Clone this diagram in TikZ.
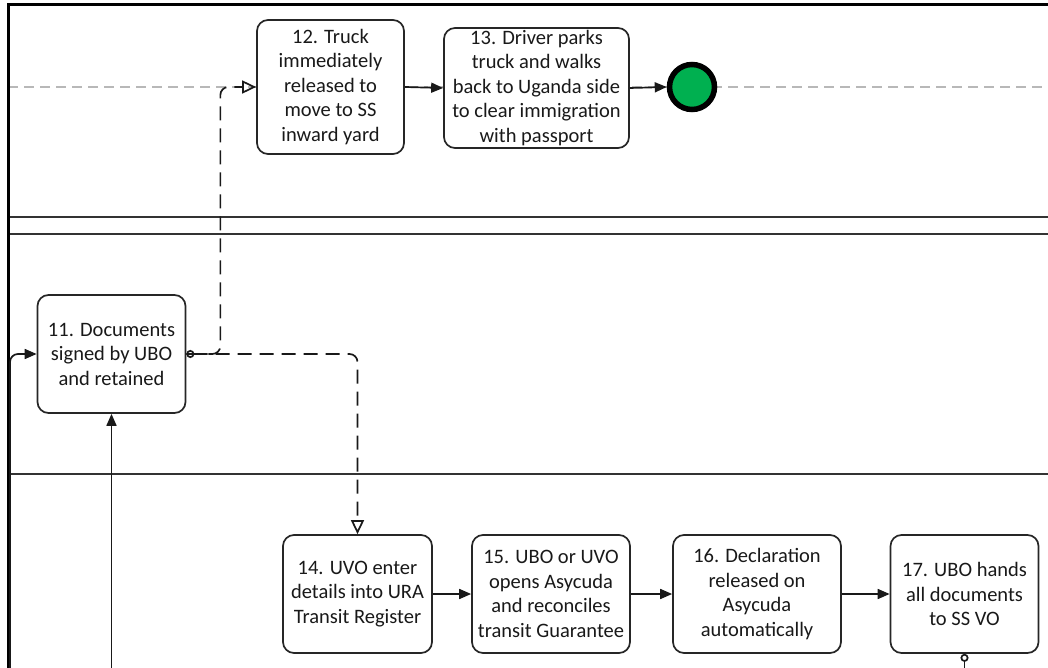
\documentclass[tikz,border=0pt]{standalone}
\usepackage{fontspec}
\setmainfont{Carlito}
\usetikzlibrary{arrows.meta}
\definecolor{endgreen}{HTML}{00B050}
\begin{document}
\begin{tikzpicture}[x=1pt,y=-1pt,
  task/.style={draw=black!85, line width=1.7pt, rounded corners=11pt, fill=white,
    align=center, inner sep=0pt, text=black!90,
    font=\fontsize{20.5}{24.5}\selectfont},
  flow/.style={line width=1.7pt, black!90, -{Triangle[length=12pt,width=10pt]}},
  msg/.style={line width=1.7pt, black!90, dash pattern=on 14pt off 8pt, rounded corners=8pt},
  lane/.style={line width=2.3pt, black!80},
  guide/.style={line width=1.3pt, black!28, dash pattern=on 10pt off 6pt},
  endevent/.style={circle, draw=black, line width=5.5pt, fill=endgreen, minimum size=45pt, inner sep=0pt}]
\useasboundingbox (0,0) rectangle (1048,668);

% pool frame and lane separators
\draw[guide] (8,87) -- (1048,87);
\draw[lane] (8,217) -- (1048,217);
\draw[lane] (8,234) -- (1048,234);
\draw[lane] (8,474) -- (1048,474);
\draw[line width=3pt] (1048,5) -- (8,5) -- (8,668);

% tasks
\node[task, minimum width=147pt, minimum height=134pt] (n12) at (330.5,87)
  {12. Truck\\immediately\\released to\\move to SS\\inward yard};
\node[task, minimum width=185pt, minimum height=120pt] (n13) at (536.5,88)
  {13. Driver parks\\truck and walks\\back to Uganda side\\to clear immigration\\with passport};
\node[endevent] (end) at (692,87) {};

\node[task, minimum width=148pt, minimum height=118pt] (n11) at (111.5,354)
  {11. Documents\\signed by UBO\\and retained};

\node[task, minimum width=149pt, minimum height=118pt] (n14) at (357.5,594)
  {14. UVO enter\\details into URA\\Transit Register};
\node[task, minimum width=158pt, minimum height=118pt] (n15) at (551,594)
  {15. UBO or UVO\\opens Asycuda\\and reconciles\\transit Guarantee};
\node[task, minimum width=168pt, minimum height=118pt] (n16) at (757,594)
  {16. Declaration\\released on\\Asycuda\\automatically};
\node[task, minimum width=148pt, minimum height=118pt] (n17) at (964.5,594)
  {17. UBO hands\\all documents\\to SS VO};

% loose ends at the bottom edge
\coordinate (inL) at (10,668);
\coordinate (inB) at (111.5,668);
\coordinate (out17) at (964.5,668);

% sequence flows
\draw[flow, rounded corners=8pt] (inL) |- (n11.west);
\draw[flow] (inB) -- (n11.south);
\draw[flow] (n12.east) -- (n13.west);
\draw[flow] (n13.east) -- (end.west);
\draw[flow] (n14.east) -- (n15.west);
\draw[flow] (n15.east) -- (n16.west);
\draw[flow] (n16.east) -- (n17.west);
\draw[line width=1.7pt, black!90, {Circle[open,length=8pt,width=8pt]}-] (n17.south) -- (out17);

% message flows
\draw[msg, -{Triangle[open,length=14pt,width=13pt]}] (n11.east) -- ++(34,0) |- (n12.west);
\draw[msg, {Circle[open,length=8pt,width=8pt]}-{Triangle[open,length=14pt,width=13pt]}] (n11.east) -| (n14.north);
\end{tikzpicture}
\end{document}
